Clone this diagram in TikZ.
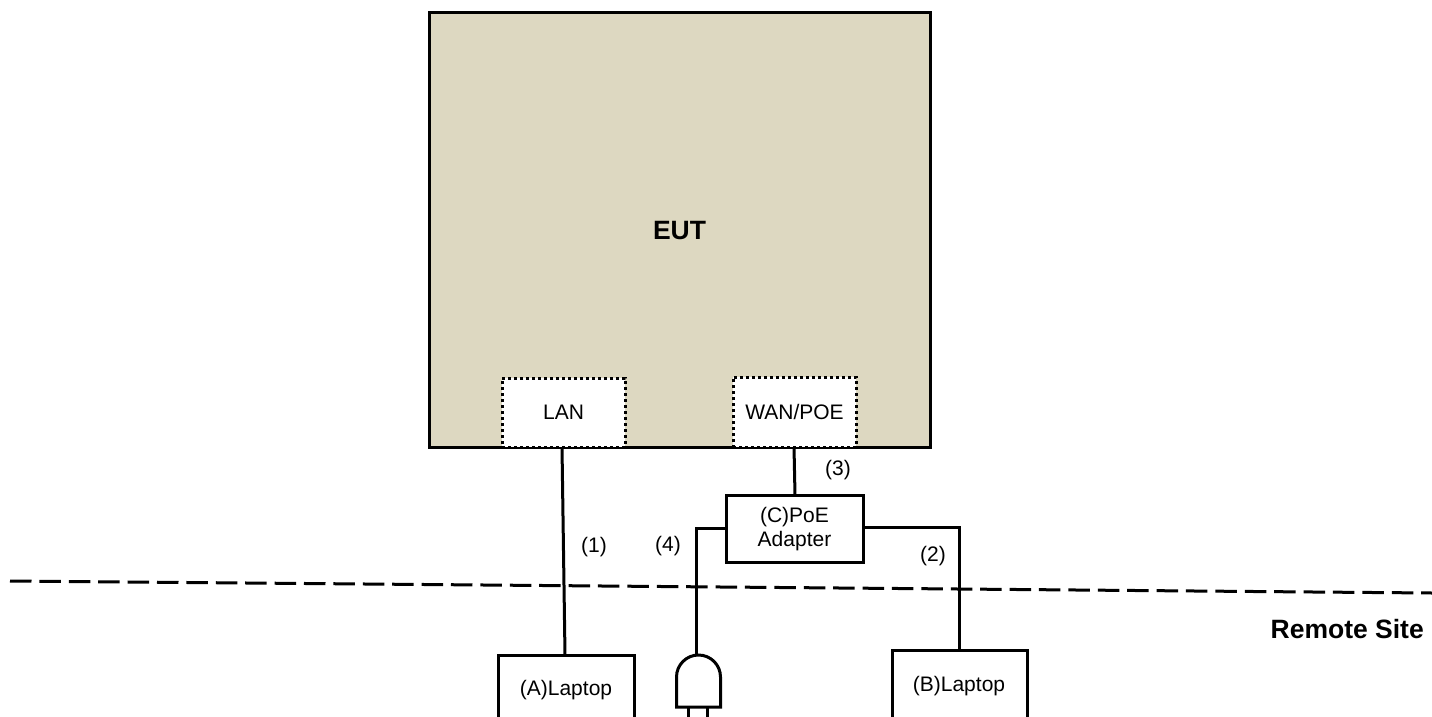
\documentclass[tikz,border=0pt]{standalone}
\usepackage{fontspec}
\setmainfont{Liberation Sans}
\tikzset{
  x=1pt,y=-1pt,
  wire/.style={line width=3pt,black},
  box/.style={draw=black,line width=3pt,fill=white,inner sep=0pt,align=center,font=\fontsize{21}{24}\selectfont},
  port/.style={draw=black,line width=3pt,dash pattern=on 3pt off 3pt,fill=white,inner sep=0pt,font=\fontsize{21}{24}\selectfont},
  lbl/.style={inner sep=0pt,font=\fontsize{21}{24}\selectfont},
  blbl/.style={inner sep=0pt,font=\fontsize{26.5}{30}\selectfont\bfseries},
}
\begin{document}
\begin{tikzpicture}
\useasboundingbox (0,0) rectangle (1432,717);
\begin{scope}
\clip (0,0) rectangle (1432,717);
\node[draw=black,line width=3pt,fill={rgb,255:red,221;green,216;blue,193},inner sep=0pt,minimum width=501pt,minimum height=434pt] (eut) at (679.5,230) {};
\node[port,minimum width=123pt,minimum height=69pt] (lan) at (563.5,412.5) {LAN};
\node[port,minimum width=123pt,minimum height=70pt] (wan) at (794.5,412) {WAN/POE};
\node[box,minimum width=137pt,minimum height=67pt] (poe) at (794.5,528.5) {};
\node[lbl] (poet) at (794.5,529.5) {\begin{tabular}{@{}c@{}}(C)PoE\\Adapter\end{tabular}};
\node[box,minimum width=136pt,minimum height=90pt] (lapa) at (566,700) {};
\node[box,minimum width=135pt,minimum height=90pt] (lapb) at (959.5,695) {};
\node[lbl] (lapat) at (566,690) {(A)Laptop};
\node[lbl] (lapbt) at (959,686) {(B)Laptop};
\coordinate (dl) at (10,581);
\coordinate (dr) at (1432,593);
\draw[line width=3pt,dash pattern=on 21.5pt off 7.9pt] (dl) -- (dr);
\coordinate (lantap) at (562,447);
\coordinate (wantap) at (794,447);
\coordinate (lapatop) at (565,655);
\coordinate (poetop) at (795,495);
\coordinate (c4) at (696.5,528.5);
\coordinate (c2) at (959.5,527);
\coordinate (plugtop) at (696.5,655);
\draw[wire] (lantap) -- (lapatop);
\draw[wire] (wantap) -- (poetop);
\draw[wire] (poe.west |- c4) -- (c4) -- (plugtop);
\draw[wire] (poe.east |- c2) -- (c2) -- (c2 |- lapb.north);
\draw[wire,fill=white,line join=miter] (676.5,707) -- (676.5,677) arc[start angle=180,end angle=0,x radius=22,y radius=-22] -- (720.5,707) -- cycle;
\draw[wire] (688.5,707) -- (688.5,717);
\draw[wire] (707,707) -- (707,717);
\node[blbl] (eutt) at (679.5,230.7) {EUT};
\node[blbl,anchor=east] (rs) at (1424,629.5) {Remote Site};
\node[lbl] (n1) at (594,547.5) {(1)};
\node[lbl] (n4) at (668,545.7) {(4)};
\node[lbl] (n3) at (838,470) {(3)};
\node[lbl] (n2) at (933,556) {(2)};
\end{scope}
\end{tikzpicture}
\end{document}
